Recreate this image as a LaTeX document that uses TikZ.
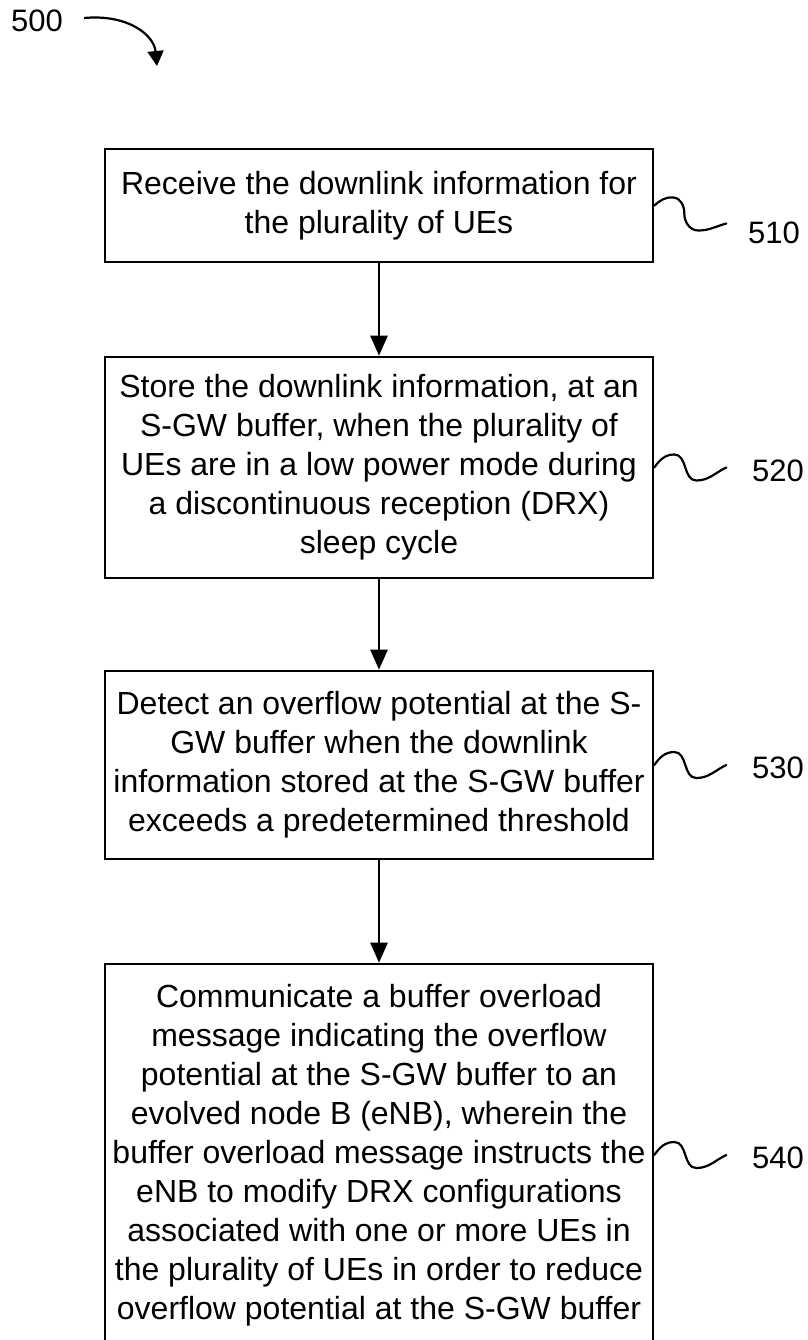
\documentclass[tikz,border=0pt]{standalone}
\usepackage{fontspec}
\setmainfont{Liberation Sans}
\usetikzlibrary{arrows.meta,calc}
\begin{document}
\begin{tikzpicture}[x=1pt,y=1pt,
  stepbox/.style={draw,line width=2.6pt,minimum width=548pt,inner sep=0pt,align=center,font=\fontsize{32}{39}\selectfont},
  flow/.style={line width=2.6pt,-{Triangle[length=20pt,width=17pt]}},
  lbl/.style={font=\fontsize{31}{38.5}\selectfont,anchor=west,inner sep=0pt},
  squig/.style={line width=2.2pt,line cap=round}]
\useasboundingbox (0,0) rectangle (807,-1340);
\clip (0,0) rectangle (807,-1340);

\node[stepbox,minimum height=113pt] (b1) at (379,-205.5)
  {Receive the downlink information for\\the plurality of UEs};
\node[stepbox,minimum height=221pt] (b2) at (379,-467.5)
  {Store the downlink information, at an\\S-GW buffer, when the plurality of\\UEs are in a low power mode during\\a discontinuous reception (DRX)\\sleep cycle};
\node[stepbox,minimum height=188pt] (b3) at (379,-765)
  {Detect an overflow potential at the S-\\GW buffer when the downlink\\information stored at the S-GW buffer\\exceeds a predetermined threshold};
\node[stepbox,minimum height=382pt] (b4) at (379,-1155)
  {Communicate a buffer overload\\message indicating the overflow\\potential at the S-GW buffer to an\\evolved node B (eNB), wherein the\\buffer overload message instructs the\\eNB to modify DRX configurations\\associated with one or more UEs in\\the plurality of UEs in order to reduce\\overflow potential at the S-GW buffer};

\draw[flow] (b1.south) -- (b2.north);
\draw[flow] (b2.south) -- (b3.north);
\draw[flow] (b3.south) -- (b4.north);

\node[lbl] (l510) at (748,-233) {510};
\node[lbl] (l520) at (752,-471) {520};
\node[lbl] (l530) at (752,-768) {530};
\node[lbl] (l540) at (752,-1158) {540};

\draw[squig] (b1.east) to[out=40,in=175] ++(19,8) to[out=-5,in=90] ++(11,-16)
  to[out=-90,in=180] ++(14,-17) to[out=0,in=195] ++(28,7);
\draw[squig] (b2.east) to[out=55,in=180] ++(20,13) to[out=0,in=180] ++(22,-26) to[out=0,in=205] ++(30,13);
\draw[squig] (b3.east) to[out=55,in=180] ++(20,13) to[out=0,in=180] ++(22,-26) to[out=0,in=205] ++(30,13);
\draw[squig] (b4.east) to[out=55,in=180] ++(20,13) to[out=0,in=180] ++(22,-26) to[out=0,in=205] ++(30,13);

\node[lbl] (n500) at (11,-21) {500};
\coordinate (a500) at (157,-66);
\draw[line width=2.2pt,-{Triangle[length=15pt,width=16pt]}]
  ($(n500.east)+(21,3)$) .. controls (128,-14) and (154,-35) .. (a500);
\end{tikzpicture}
\end{document}
